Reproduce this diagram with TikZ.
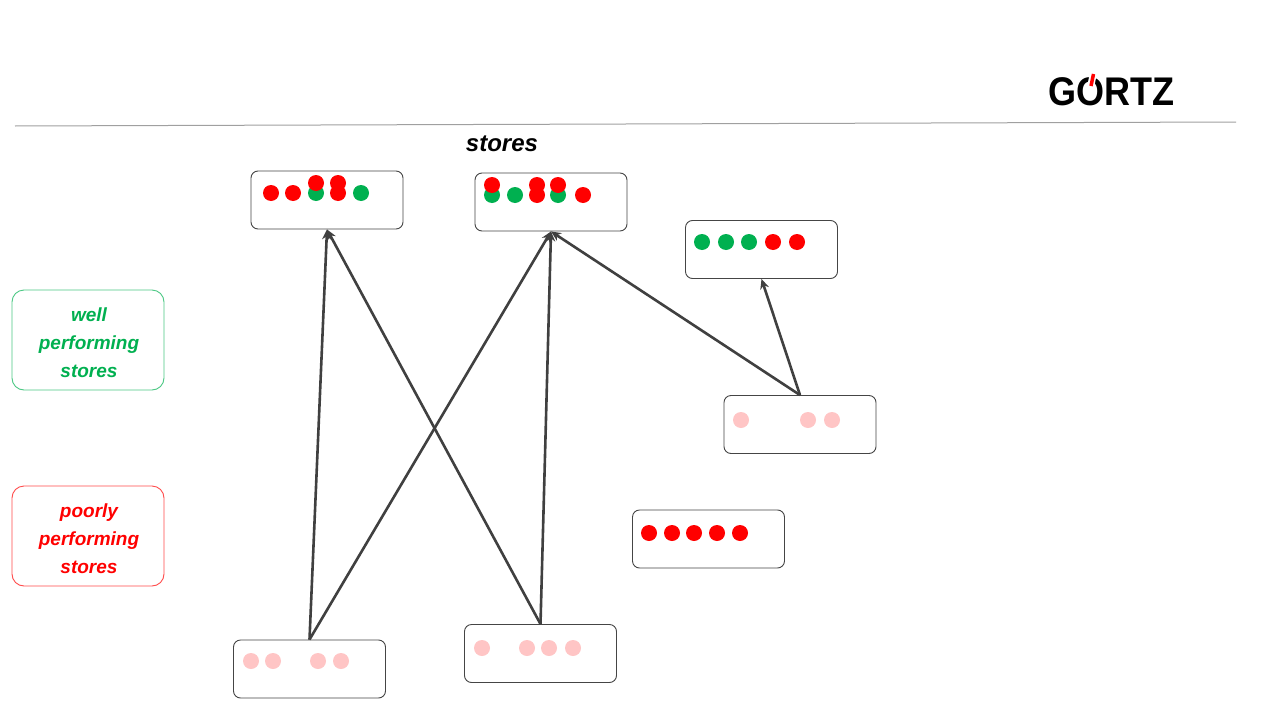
\documentclass[tikz,border=0pt]{standalone}
\usepackage{fontspec}
\setmainfont{Liberation Sans}
\usetikzlibrary{arrows.meta}
\definecolor{gGreen}{HTML}{00B050}
\definecolor{gRed}{HTML}{FF0000}
\definecolor{gPink}{HTML}{FFC5C5}
\definecolor{gBorder}{HTML}{454545}
\definecolor{gArrow}{HTML}{404040}
\definecolor{gLine}{HTML}{A0A0A0}
\tikzset{
  storebox/.style={draw=gBorder, line width=0.9pt, rounded corners=7pt, minimum width=152pt, minimum height=58pt, inner sep=0pt, fill=white},
  legendbox/.style={rounded corners=12pt, minimum width=152pt, minimum height=100pt, line width=0.9pt, inner sep=0pt},
  legendtext/.style={inner sep=0pt, align=center, font=\fontsize{19}{28}\selectfont\bfseries\itshape},
  flow/.style={draw=gArrow, line width=2.6pt, -{Stealth[length=10pt,width=9pt]}},
}
\newcommand{\dotR}[2]{\fill[gRed] (#1,#2) circle (8);}
\newcommand{\dotG}[2]{\fill[gGreen] (#1,#2) circle (8);}
\newcommand{\dotP}[2]{\fill[gPink] (#1,#2) circle (8);}
\begin{document}
\begin{tikzpicture}[x=1pt,y=-1pt]
\useasboundingbox (0,0) rectangle (1280,720);
\fill[white] (0,0) rectangle (1280,720);

% header line
\coordinate (hl1) at (15,126);
\coordinate (hr1) at (1236,122);
\draw[gLine, line width=1pt] (hl1) -- (hr1);

% logo
\node[inner sep=0pt, anchor=center] (logo) at (1111,92) {\scalebox{0.9}[1]{\fontsize{40}{40}\selectfont\bfseries GORTZ}};
\draw[white, line width=7pt] (1093.5,73) -- (1090.5,87);
\draw[gRed, line width=3.5pt] (1093.5,74) -- (1091,86);

% title
\node[font=\fontsize{24}{28}\selectfont\bfseries\itshape] (title) at (502,144) {stores};

% legend
\node[legendbox, draw=gGreen!70] (well) at (88,340) {};
\node[legendtext, text=gGreen] (wellT) at (89,342.5) {well\\performing\\stores};
\node[legendbox, draw=gRed!70] (poor) at (88,536) {};
\node[legendtext, text=gRed] (poorT) at (89,538.5) {poorly\\performing\\stores};

% store boxes
\node[storebox] (A) at (327,200) {};
\node[storebox] (B) at (551,202) {};
\node[storebox] (C) at (761.5,249.5) {};
\node[storebox] (D) at (800,424.5) {};
\node[storebox] (E) at (708.5,539) {};
\node[storebox] (F) at (309.5,669) {};
\node[storebox] (G) at (540.5,653.5) {};

% dots A
\dotR{271}{193}\dotR{293}{193}\dotG{316}{193}\dotR{316}{183}\dotR{338}{193}\dotR{338}{183}\dotG{361}{193}
% dots B
\dotG{492}{195}\dotR{492}{185}\dotG{515}{195}\dotR{537}{195}\dotR{537}{185}\dotG{558}{195}\dotR{558}{185}\dotR{583}{195}
% dots C
\dotG{702}{242}\dotG{726}{242}\dotG{749}{242}\dotR{773}{242}\dotR{797}{242}
% dots D
\dotP{741}{420}\dotP{808}{420}\dotP{832}{420}
% dots E
\dotR{649}{533}\dotR{672}{533}\dotR{694}{533}\dotR{717}{533}\dotR{740}{533}
% dots F
\dotP{251}{661}\dotP{273}{661}\dotP{318}{661}\dotP{341}{661}
% dots G
\dotP{482}{648}\dotP{527}{648}\dotP{549}{648}\dotP{573}{648}

% arrows
\draw[flow] (F.north) -- (A.south);
\draw[flow] (F.north) -- (B.south);
\draw[flow] (G.north) -- (A.south);
\draw[flow] (G.north) -- (B.south);
\draw[flow] (D.north) -- (B.south);
\draw[flow] (D.north) -- (C.south);
\end{tikzpicture}
\end{document}
